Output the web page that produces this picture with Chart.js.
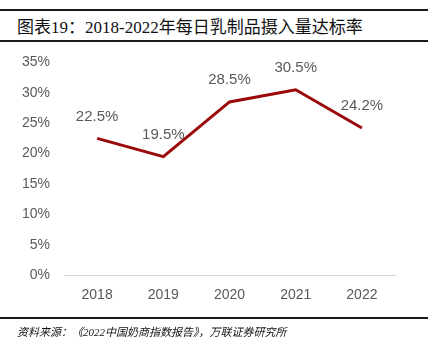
<!DOCTYPE html>
<html>
<head>
<meta charset="utf-8">
<script src="https://cdn.jsdelivr.net/npm/chart.js@4/dist/chart.umd.min.js"></script>
<style>
  body { margin: 0; background: #fff; width: 434px; height: 354px; position: relative; overflow: hidden; }
  .rule { position: absolute; left: 0; width: 428px; height: 2px; background: #1a1a1a; }
  #title { position: absolute; left: 17px; top: 13px; font: 17px "Liberation Serif", "Noto Sans CJK SC", serif; color: #111; white-space: nowrap; }
  #source { position: absolute; left: 17px; top: 323px; font: italic 11px "Liberation Serif", "Noto Sans CJK SC", serif; color: #111; white-space: nowrap; }
  #wrap { position: absolute; left: 0; top: 40px; width: 434px; height: 282px; }
</style>
</head>
<body>
<div class="rule" style="top:9px"></div>
<div id="title">图表19：2018-2022年每日乳制品摄入量达标率</div>
<div class="rule" style="top:40px"></div>
<div id="wrap"><canvas id="myChart"></canvas></div>
<div class="rule" style="top:317px"></div>
<div id="source">资料来源：《2022中国奶商指数报告》，万联证券研究所</div>
<script>
const years = ['2018', '2019', '2020', '2021', '2022'];
const rates = [22.5, 19.5, 28.5, 30.5, 24.2];

const ctx = document.getElementById('myChart');

// value labels above each point
const pointLabels = {
  id: 'pointLabels',
  afterDatasetsDraw(chart) {
    const c = chart.ctx;
    const meta = chart.getDatasetMeta(0);
    c.save();
    c.font = '15px "Liberation Sans", Arial, sans-serif';
    c.fillStyle = '#595959';
    c.textAlign = 'center';
    c.textBaseline = 'middle';
    meta.data.forEach((pt, i) => {
      c.fillText(rates[i].toFixed(1) + '%', pt.x, pt.y - 22);
    });
    c.restore();
  }
};

new Chart(ctx, {
  type: 'line',
  data: {
    labels: years,
    datasets: [{
      label: '达标率',
      data: rates,
      borderColor: '#9b0a0a',
      borderWidth: 3,
      pointRadius: 0,
      tension: 0
    }]
  },
  options: {
    responsive: true,
    maintainAspectRatio: false,
    animation: false,
    layout: { padding: { left: 8, right: 39, top: 5, bottom: 6 } },
    plugins: { legend: { display: false }, tooltip: { enabled: false } },
    scales: {
      x: {
        offset: true,
        grid: { display: false, drawTicks: false },
        border: { display: true, color: '#d9d9d9' },
        ticks: { color: '#595959', font: { size: 14, family: '"Liberation Sans", Arial' }, padding: 12 }
      },
      y: {
        min: 0,
        max: 35,
        grid: { display: false, drawTicks: false },
        border: { display: false },
        ticks: {
          stepSize: 5,
          color: '#595959',
          padding: 14,
          font: { size: 14, family: '"Liberation Sans", Arial' },
          callback: v => v + '%'
        }
      }
    }
  },
  plugins: [pointLabels]
});
</script>
</body>
</html>
